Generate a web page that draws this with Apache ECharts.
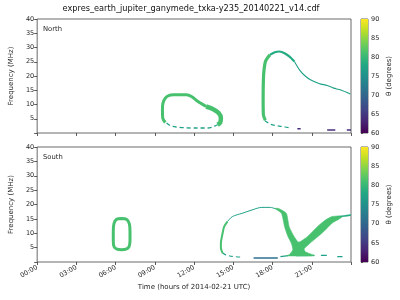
<!DOCTYPE html>
<html><head><meta charset="utf-8">
<script src="https://cdn.jsdelivr.net/npm/echarts@6/dist/echarts.min.js"></script>
<style>html,body{margin:0;padding:0;background:#fff}#c{width:400px;height:300px}</style>
</head><body><div id="c"></div>
<script>
// ---------- data ----------
const titleText = 'expres_earth_jupiter_ganymede_txka-y235_20140221_v14.cdf';
const panelNames = ['North', 'South'];
const xTickLabels = ['00:00','03:00','06:00','09:00','12:00','15:00','18:00','21:00'];
const yTickValues = [5,10,15,20,25,30,35,40];
const cbarTickValues = [60,65,70,75,80,85,90];

// North hemisphere (hours, MHz)
const northLoopLeft  = [[9.8,3.7],[9.6,5.25],[9.58,8.15],[9.62,10.5],[9.8,12.25],[10.05,13.15],[10.43,13.4],[11.42,13.4],[11.8,12.8],[12.3,11.05],[12.92,9.3]];
const northLoopRight = [[12.92,9.3],[13.43,8.4],[13.88,7.0],[14.05,5.25],[14.0,3.7],[13.8,2.9]];
const northLoopBase  = [[9.9,3.5],[10.2,2.55],[10.65,2.1],[11.4,1.8],[12.2,1.75],[13.0,1.75],[13.4,2.1],[13.8,2.9]];
const northArcRise   = [[17.45,4.5],[17.3,6.4],[17.28,11.6],[17.3,18.6],[17.35,22.2],[17.45,25.0],[17.6,26.3],[17.8,27.4]];
const northArcTop    = [[17.8,27.4],[18.17,28.35],[18.55,28.6],[18.92,28.0],[19.3,26.8],[19.67,25.1]];
const northArcTail   = [[19.67,25.1],[20.12,21.8],[20.5,20.0],[20.9,18.65],[21.4,17.6],[21.7,17.15],[22.18,16.7],[22.67,15.75],[23.18,15.15],[23.95,13.65]];
const northArcBase   = [[17.42,4.3],[17.8,3.15],[18.17,2.66],[18.68,2.31],[19.3,1.86]];
const northLowDashes = [[[19.9,1.5],[20.15,1.5]],[[22.18,1.05],[22.8,1.05]],[[23.68,1.05],[24,1.05]]];

// South hemisphere (hours, MHz)
const southOval      = [[6.45,15.1],[6.85,14.8],[7.05,13.3],[7.1,10.5],[7.1,7.5],[7.02,5.3],[6.8,4.5],[6.45,4.3],[6.1,4.5],[5.88,5.3],[5.82,7.5],[5.82,10.5],[5.87,13.3],[6.05,14.8],[6.45,15.1]];
const southArcLow    = [[14.18,3.1],[14.05,4.84],[14.05,6.57],[14.18,10.0],[14.3,12.3],[14.55,14.05]];
const southArcTop    = [[14.55,14.05],[14.93,15.8],[15.68,16.95],[16.43,18.1],[17.18,19.0],[17.8,19.0],[18.3,18.4]];
const southArcBase   = [[14.18,3.1],[14.42,2.5],[14.93,1.94],[15.55,1.73]];
const southDarkLine  = [[16.55,1.38],[18.4,1.38]];
const southBaseDashes= [[[18.6,1.9],[19.2,2.2]],[[19.8,2.2],[21.2,2.3]],[[21.7,2.3],[22.15,2.3]],[[22.95,1.85],[23.35,1.85]]];
const southVShape    = [[18.2,18.6],[18.68,16.95],[18.92,12.3],[19.18,8.86],[19.43,6.57],[19.55,4.26],[19.3,2.6],[19.1,2.2],[19.9,2.1],[21.2,2.2],[20.5,3.6],[20.42,4.6],[21.17,7.7],[21.92,10.6],[22.55,13.5],[23.1,15.0],[23.3,15.6],[23.0,15.95],[22.55,15.8],[22.05,14.6],[21.43,12.3],[20.68,8.86],[20.0,6.9],[19.65,8.86],[19.27,12.3],[19.05,16.95],[18.45,18.6]];
const southTail      = [[22.9,15.7],[23.5,16.0],[24,16.35]];

// ---------- styles ----------
const GREEN = '#47c16e', TEAL = '#1fa187', TEAL2 = '#25ab82', DARK = '#2c6f8e', PURPLE = '#472c7a';
const viridis = [[0,'#440154'],[0.1,'#482475'],[0.2,'#414487'],[0.3,'#355f8d'],[0.4,'#2a788e'],[0.5,'#21918c'],[0.6,'#22a884'],[0.7,'#44bf70'],[0.8,'#7ad151'],[0.9,'#bddf26'],[1,'#fde725']];
const FONT = 'DejaVu Sans';
const TXT = '#262626';

function line(data, gi, width, color, dashed) {
  return {type:'line', xAxisIndex:gi, yAxisIndex:gi, data:data, showSymbol:false, smooth:0.3,
    silent:true, animation:false, z:3,
    lineStyle:{width:width, color:color, type: dashed ? [4,3] : 'solid'}};
}
function polygon(data, gi, color) {
  return {type:'custom', xAxisIndex:gi, yAxisIndex:gi, data:[0], silent:true, animation:false, z:4,
    renderItem: function(params, api) {
      return {type:'polygon', shape:{points: data.map(p => api.coord(p)), smooth:0.2},
        style:{fill:color, stroke:color, lineWidth:0.6}};
    }};
}
function cbar(gi) {
  return {type:'custom', xAxisIndex:gi, yAxisIndex:gi, data:[0], silent:true, animation:false,
    renderItem: function(params, api) {
      const a = api.coord([0, cbarTickValues[cbarTickValues.length-1]]);
      const b = api.coord([1, cbarTickValues[0]]);
      return {type:'rect', shape:{x:a[0], y:a[1], width:b[0]-a[0], height:b[1]-a[1]},
        style:{fill:new echarts.graphic.LinearGradient(0,1,0,0, viridis.map(s=>({offset:s[0],color:s[1]})))}};
    }};
}

const series = [];
// North
series.push(line(northLoopLeft, 0, 3, GREEN));
series.push(line(northLoopRight, 0, 4.5, GREEN));
series.push(line(northLoopBase, 0, 1.3, TEAL, true));
series.push(line(northArcRise, 0, 3.2, GREEN));
series.push(line(northArcTop, 0, 2.2, TEAL2));
series.push(line(northArcTail, 0, 1.1, TEAL));
series.push(line(northArcBase, 0, 1.2, TEAL, true));
northLowDashes.forEach(d => series.push(line(d, 0, 1.6, PURPLE)));
// South
series.push(line(southOval, 1, 3, GREEN));
series.push(line(southArcLow, 1, 2, GREEN));
series.push(line(southArcTop, 1, 1.0, TEAL));
series.push(line(southArcBase, 1, 1.2, TEAL, true));
series.push(line(southDarkLine, 1, 1.4, DARK));
southBaseDashes.forEach(d => series.push(line(d, 1, 1.3, TEAL)));
series.push(polygon(southVShape, 1, GREEN));
series.push(line(southTail, 1, 1.6, TEAL2));
// Colorbars
series.push(cbar(2));
series.push(cbar(3));

const axisCommon = {
  axisLine:{show:false}, splitLine:{show:false},
  axisTick:{show:true, inside:false, length:3, lineStyle:{color:'#333', width:0.8}},
  axisLabel:{fontSize:6.5, color:TXT, fontFamily:FONT, margin:3}
};
function xAx(gi, labels) {
  return Object.assign({}, axisCommon, {type:'value', gridIndex:gi, min:0, max:24, interval:3,
    axisLabel: Object.assign({}, axisCommon.axisLabel, {show:labels, rotate:30, margin:5,
      formatter: v => xTickLabels[Math.round(v/3)] || ''}),
    name: labels ? 'Time (hours of 2014-02-21 UTC)' : '', nameLocation:'middle', nameGap:22,
    nameTextStyle:{fontSize:7, color:TXT, fontFamily:FONT}});
}
function yAx(gi) {
  return Object.assign({}, axisCommon, {type:'value', gridIndex:gi, min:0, max:40, interval:5,
    axisLabel: Object.assign({}, axisCommon.axisLabel, {formatter: v => yTickValues.indexOf(v) >= 0 ? String(v) : ''}),
    name:'Frequency (MHz)', nameLocation:'middle', nameGap:17, nameRotate:90,
    nameTextStyle:{fontSize:7, color:TXT, fontFamily:FONT}});
}
function cbX(gi) { return {type:'value', gridIndex:gi, min:0, max:1, show:false}; }
function cbY(gi) {
  return Object.assign({}, axisCommon, {type:'value', gridIndex:gi, position:'right',
    min:cbarTickValues[0], max:cbarTickValues[cbarTickValues.length-1], interval:5,
    axisTick:{show:true, length:2, lineStyle:{color:'#333', width:0.8}},
    name:'θ (degrees)', nameLocation:'middle', nameGap:18, nameRotate:90,
    nameTextStyle:{fontSize:7, color:TXT, fontFamily:FONT}});
}

const gridStyle = {show:true, borderColor:'#444', borderWidth:0.8, backgroundColor:'transparent', containLabel:false};
const option = {
  animation:false,
  grid:[
    Object.assign({left:31, top:19, width:320, height:114}, gridStyle),
    Object.assign({left:31, top:147, width:320, height:115}, gridStyle),
    Object.assign({left:361, top:19, width:7, height:114}, gridStyle),
    Object.assign({left:361, top:147, width:7, height:115}, gridStyle)
  ],
  xAxis:[xAx(0,false), xAx(1,true), cbX(2), cbX(3)],
  yAxis:[yAx(0), yAx(1), cbY(2), cbY(3)],
  graphic:[
    {type:'text', x:191, y:5, style:{text:titleText, fontSize:8.2, fill:'#111', fontFamily:FONT, textAlign:'center'}},
    {type:'text', left:43, top:26, style:{text:panelNames[0], fontSize:6.8, fill:TXT, fontFamily:FONT}},
    {type:'text', left:43, top:154, style:{text:panelNames[1], fontSize:6.8, fill:TXT, fontFamily:FONT}}
  ],
  series:series
};
const chart = echarts.init(document.getElementById('c'), null, {renderer:'canvas'});
chart.setOption(option);
</script></body></html>
